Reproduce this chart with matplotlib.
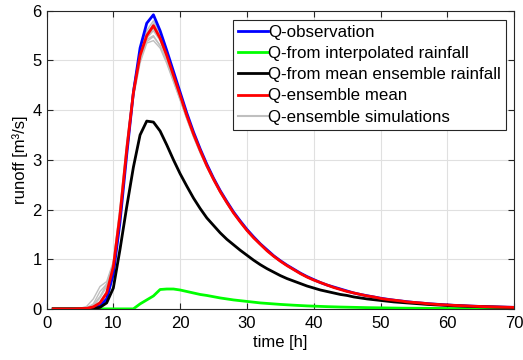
import numpy as np
import matplotlib
matplotlib.use("Agg")
import matplotlib.pyplot as plt

plt.rcParams['font.family'] = ['Liberation Sans', 'DejaVu Sans']

t = np.arange(1, 71)

# observed runoff [m3/s], hourly
q_obs = [0, 0, 0, 0, 0, 0.005, 0.02, 0.06, 0.2, 0.7,
         1.75, 3.1, 4.35, 5.25, 5.75, 5.92, 5.6, 5.2, 4.78, 4.36,
         3.94, 3.56, 3.22, 2.91, 2.63, 2.38, 2.16, 1.95, 1.77, 1.6,
         1.45, 1.31, 1.19, 1.07, 0.97, 0.88, 0.80, 0.72, 0.65, 0.59,
         0.53, 0.48, 0.44, 0.40, 0.36, 0.32, 0.29, 0.265, 0.24, 0.215,
         0.195, 0.176, 0.16, 0.145, 0.13, 0.118, 0.107, 0.097, 0.088, 0.08,
         0.072, 0.066, 0.06, 0.054, 0.049, 0.045, 0.041, 0.037, 0.034, 0.031]

q_interp = [0, 0, 0, 0, 0, 0, 0, 0, 0, 0,
            0, 0, 0, 0.1, 0.18, 0.26, 0.39, 0.40, 0.40, 0.38,
            0.35, 0.32, 0.29, 0.27, 0.245, 0.22, 0.20, 0.18, 0.165, 0.15,
            0.135, 0.12, 0.11, 0.10, 0.09, 0.082, 0.074, 0.067, 0.06, 0.055,
            0.05, 0.045, 0.041, 0.037, 0.034, 0.031, 0.028, 0.025, 0.023, 0.021,
            0.019, 0.017, 0.015, 0.014, 0.013, 0.012, 0.011, 0.01, 0.009, 0.008,
            0.007, 0.0065, 0.006, 0.0055, 0.005, 0.0045, 0.004, 0.0035, 0.003, 0.003]

q_mean_rain = [0, 0, 0, 0, 0, 0, 0.01, 0.03, 0.12, 0.42,
               1.2, 2.05, 2.85, 3.5, 3.78, 3.76, 3.58, 3.3, 3.0, 2.72,
               2.47, 2.23, 2.02, 1.83, 1.68, 1.53, 1.4, 1.29, 1.18, 1.08,
               0.98, 0.89, 0.81, 0.74, 0.67, 0.61, 0.56, 0.51, 0.46, 0.42,
               0.38, 0.35, 0.32, 0.29, 0.27, 0.24, 0.22, 0.2, 0.185, 0.17,
               0.155, 0.14, 0.13, 0.12, 0.11, 0.1, 0.09, 0.082, 0.075, 0.068,
               0.062, 0.056, 0.051, 0.047, 0.043, 0.039, 0.036, 0.033, 0.03, 0.027]

q_ens_mean = [0, 0, 0, 0, 0.005, 0.01, 0.04, 0.12, 0.32, 0.85,
              1.9, 3.2, 4.35, 5.1, 5.5, 5.7, 5.45, 5.1, 4.7, 4.3,
              3.89, 3.52, 3.19, 2.88, 2.61, 2.36, 2.14, 1.93, 1.75, 1.58,
              1.43, 1.30, 1.17, 1.06, 0.96, 0.87, 0.79, 0.71, 0.64, 0.58,
              0.53, 0.48, 0.43, 0.39, 0.35, 0.32, 0.29, 0.26, 0.24, 0.21,
              0.19, 0.175, 0.16, 0.14, 0.13, 0.12, 0.105, 0.095, 0.085, 0.08,
              0.07, 0.065, 0.06, 0.053, 0.048, 0.044, 0.04, 0.036, 0.033, 0.03]

# ensemble members, first 30 hours (later hours follow the ensemble mean)
ens_heads = [
    [0, 0, 0, 0, 0.01, 0.05, 0.2, 0.45, 0.55, 0.95, 2.0, 3.3, 4.4, 5.1, 5.45,
     5.6, 5.4, 5.05, 4.66, 4.27, 3.87, 3.5, 3.17, 2.87, 2.6, 2.35, 2.13, 1.93, 1.75, 1.58],
    [0, 0, 0, 0, 0, 0.02, 0.1, 0.35, 0.5, 0.9, 1.95, 3.25, 4.35, 5.05, 5.42,
     5.5, 5.3, 4.98, 4.6, 4.22, 3.84, 3.48, 3.15, 2.86, 2.59, 2.34, 2.12, 1.92, 1.74, 1.57],
    [0, 0, 0, 0, 0, 0.01, 0.05, 0.15, 0.35, 0.9, 1.95, 3.3, 4.45, 5.2, 5.6,
     5.8, 5.55, 5.17, 4.76, 4.35, 3.93, 3.55, 3.21, 2.9, 2.63, 2.38, 2.16, 1.95, 1.77, 1.6],
    [0, 0, 0, 0, 0, 0.01, 0.03, 0.1, 0.28, 0.8, 1.85, 3.15, 4.3, 5.05, 5.45,
     5.65, 5.42, 5.08, 4.69, 4.29, 3.89, 3.52, 3.19, 2.88, 2.61, 2.36, 2.14, 1.93, 1.75, 1.58],
    [0, 0, 0, 0, 0, 0.01, 0.06, 0.22, 0.45, 0.85, 1.85, 3.15, 4.25, 4.95, 5.35,
     5.4, 5.25, 4.94, 4.57, 4.2, 3.82, 3.46, 3.14, 2.85, 2.58, 2.34, 2.12, 1.92, 1.74, 1.57],
    [0, 0, 0, 0, 0, 0.01, 0.04, 0.12, 0.3, 0.95, 2.05, 3.35, 4.45, 5.15, 5.55,
     5.72, 5.5, 5.13, 4.72, 4.32, 3.91, 3.54, 3.2, 2.89, 2.62, 2.37, 2.15, 1.94, 1.76, 1.59],
    [0, 0, 0, 0, 0, 0.005, 0.02, 0.08, 0.22, 0.75, 1.8, 3.1, 4.3, 5.1, 5.5,
     5.75, 5.52, 5.14, 4.73, 4.33, 3.92, 3.54, 3.2, 2.9, 2.62, 2.37, 2.15, 1.94, 1.76, 1.59],
    [0, 0, 0, 0, 0, 0.02, 0.08, 0.25, 0.5, 0.9, 1.9, 3.2, 4.3, 5.0, 5.38,
     5.48, 5.3, 4.98, 4.6, 4.22, 3.84, 3.48, 3.15, 2.86, 2.59, 2.34, 2.12, 1.92, 1.74, 1.57],
]

fig = plt.figure(figsize=(5.23, 3.6), dpi=100)
ax = fig.add_axes([0.089, 0.142, 0.894, 0.828])

for i, head in enumerate(ens_heads):
    member = head + q_ens_mean[30:]
    ax.plot(t, member, color=(0.75, 0.75, 0.75), lw=1.0, zorder=2)

ax.plot(t, q_obs, color=(0, 0, 1), lw=2, zorder=3)
ax.plot(t, q_interp, color=(0, 1, 0), lw=2, zorder=3)
ax.plot(t, q_mean_rain, color=(0, 0, 0), lw=2, zorder=3)
ax.plot(t, q_ens_mean, color=(1, 0, 0), lw=2, zorder=4)

# legend handles
h1, = ax.plot([], [], color=(0, 0, 1), lw=2, label="Q-observation")
h2, = ax.plot([], [], color=(0, 1, 0), lw=2, label="Q-from interpolated rainfall")
h3, = ax.plot([], [], color=(0, 0, 0), lw=2, label="Q-from mean ensemble rainfall")
h4, = ax.plot([], [], color=(1, 0, 0), lw=2, label="Q-ensemble mean")
h5, = ax.plot([], [], color=(0.75, 0.75, 0.75), lw=1.5, label="Q-ensemble simulations")
leg = ax.legend(handles=[h1, h2, h3, h4, h5], loc="upper right",
                bbox_to_anchor=(0.983, 0.970), fontsize=12.2, fancybox=False,
                framealpha=1, edgecolor=(0.15, 0.15, 0.15), handlelength=1.75,
                handletextpad=0.0, borderpad=0.32, labelspacing=0.36,
                borderaxespad=0)
leg.get_frame().set_linewidth(0.8)

ax.set_xlim(0, 70)
ax.set_ylim(0, 6)
ax.set_xticks(np.arange(0, 71, 10))
ax.set_yticks(np.arange(0, 7, 1))
ax.grid(True, color=(0.88, 0.88, 0.88), lw=0.8)
ax.set_axisbelow(True)
ax.tick_params(direction="in", top=True, right=True, labelsize=12,
               color=(0.15, 0.15, 0.15), length=4)
ax.tick_params(axis="x", pad=5)
for s in ax.spines.values():
    s.set_color((0.15, 0.15, 0.15))
    s.set_linewidth(0.8)
ax.set_xlabel("time [h]", fontsize=12, labelpad=3)
ax.set_ylabel("runoff [m³/s]", fontsize=12, labelpad=3)

fig.savefig("out.png", dpi=100)
